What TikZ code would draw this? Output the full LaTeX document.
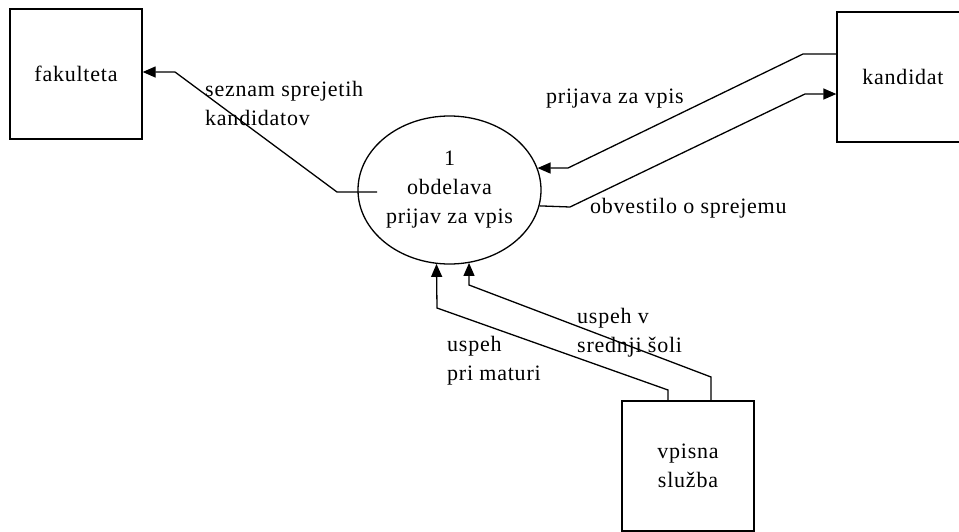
\documentclass[tikz,border=0pt]{standalone}
\usepackage{fontspec}
\setmainfont[LetterSpace=3.5]{Liberation Serif}
\usetikzlibrary{shapes.geometric,arrows.meta,calc}
\begin{document}
\begin{tikzpicture}[x=1pt,y=-1pt,
  every node/.style={font=\fontsize{22}{29}\selectfont},
  entity/.style={draw,line width=1.3pt,minimum width=132pt,minimum height=130pt,inner sep=0pt,align=center},
  proc/.style={draw,line width=1.3pt,ellipse,minimum width=183pt,minimum height=148pt,inner sep=0pt,align=center},
  flow/.style={line width=1.3pt,-{Triangle[length=13pt,width=11pt]}},
  lbl/.style={anchor=base west,inner sep=0pt,align=left}]
\clip (0,0) rectangle (959,531);
\node[entity] (f) at (76,74) {fakulteta};
\node[entity] (k) at (903,77) {kandidat};
\node[entity] (v) at (688,466) {vpisna\\služba};
\node[proc] (p) at (449.5,190) {1\\obdelava\\prijav za vpis};

\draw[flow] ($(p.center)+(-72.5,2)$) -- (337,192) -- (175,72) -- ([yshift=2pt]f.east);
\draw[flow] ([yshift=23pt]k.west) -- (803,54) -- (568,168) -- (p.14.1);
\draw[flow] (p.-10.8) -- (570,207) -- (805,94) -- ([yshift=-17pt]k.west);
\draw[flow] ([xshift=-20pt]v.north) -- (668,390) -- (437,308) -- (p.260.3);
\draw[flow] ([xshift=23pt]v.north) -- (711,377) -- (469,285) -- (p.285.1);

\node[lbl] (l1) at (205,125) {seznam sprejetih\\kandidatov};
\node[lbl] (l2) at (546,103) {prijava za vpis};
\node[lbl] (l3) at (590,213) {obvestilo o sprejemu};
\node[lbl] (l4) at (447,380) {uspeh\\pri maturi};
\node[lbl] (l5) at (577,352) {uspeh v\\srednji šoli};
\end{tikzpicture}
\end{document}
